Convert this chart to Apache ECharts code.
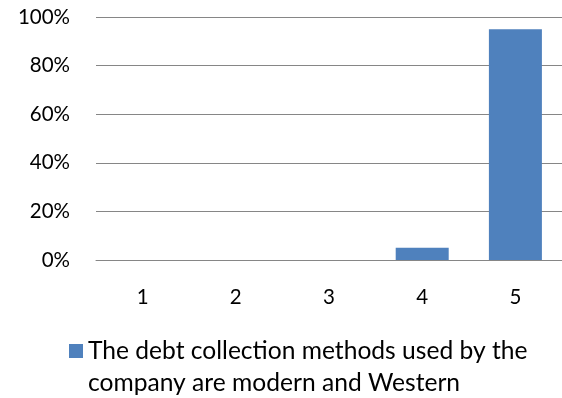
<!DOCTYPE html>
<html>
<head>
<meta charset="utf-8">
<script src="https://cdn.jsdelivr.net/npm/echarts@6/dist/echarts.min.js"></script>
<style>
  html, body { margin: 0; padding: 0; background: #ffffff; }
  #chart { width: 562px; height: 398px; }
</style>
</head>
<body>
<div id="chart"></div>
<script>
// Rating scale categories (1 = strongly disagree ... 5 = strongly agree)
const categories = ['1', '2', '3', '4', '5'];
// Share of respondents per rating, in percent
const shares = [0, 0, 0, 5, 95];
// Value axis ticks, in percent
const yTicks = [0, 20, 40, 60, 80, 100];
// Series name, split across the two legend lines
const legendLines = ['The debt collection methods used by the', 'company are modern and Western'];
const seriesName = legendLines.join(' ');

const FONT = 'Lato';
const chart = echarts.init(document.getElementById('chart'), null, { renderer: 'canvas' });

chart.setOption({
  animation: false,
  textStyle: { fontFamily: FONT, color: '#000' },
  grid: { left: 96, top: 17, width: 469, height: 243, containLabel: false },
  xAxis: {
    type: 'category',
    data: categories,
    axisLine: { show: true, lineStyle: { color: '#868686', width: 1 } },
    axisTick: { show: false },
    axisLabel: { fontFamily: FONT, fontSize: 20.5, color: '#000', margin: 27 },
    splitLine: { show: false }
  },
  yAxis: {
    type: 'value',
    min: yTicks[0],
    max: yTicks[yTicks.length - 1],
    interval: yTicks[1] - yTicks[0],
    axisLine: { show: false },
    axisTick: { show: false },
    axisLabel: { fontFamily: FONT, fontSize: 20.5, color: '#000', margin: 26, formatter: v => v + '%' },
    splitLine: { show: true, lineStyle: { color: '#868686', width: 1 } }
  },
  legend: {
    show: true,
    left: 69,
    top: 303,
    padding: 0,
    icon: 'rect',
    itemWidth: 14,
    itemHeight: 14,
    // leading empty line keeps the swatch level with the first text line
    formatter: () => '\n' + legendLines.join('\n'),
    textStyle: { fontFamily: FONT, fontSize: 24.6, color: '#000', lineHeight: 32 },
    data: [seriesName]
  },
  series: [{
    name: seriesName,
    type: 'bar',
    data: shares,
    barWidth: 53,
    itemStyle: { color: '#4F81BD' }
  }]
});
</script>
</body>
</html>
